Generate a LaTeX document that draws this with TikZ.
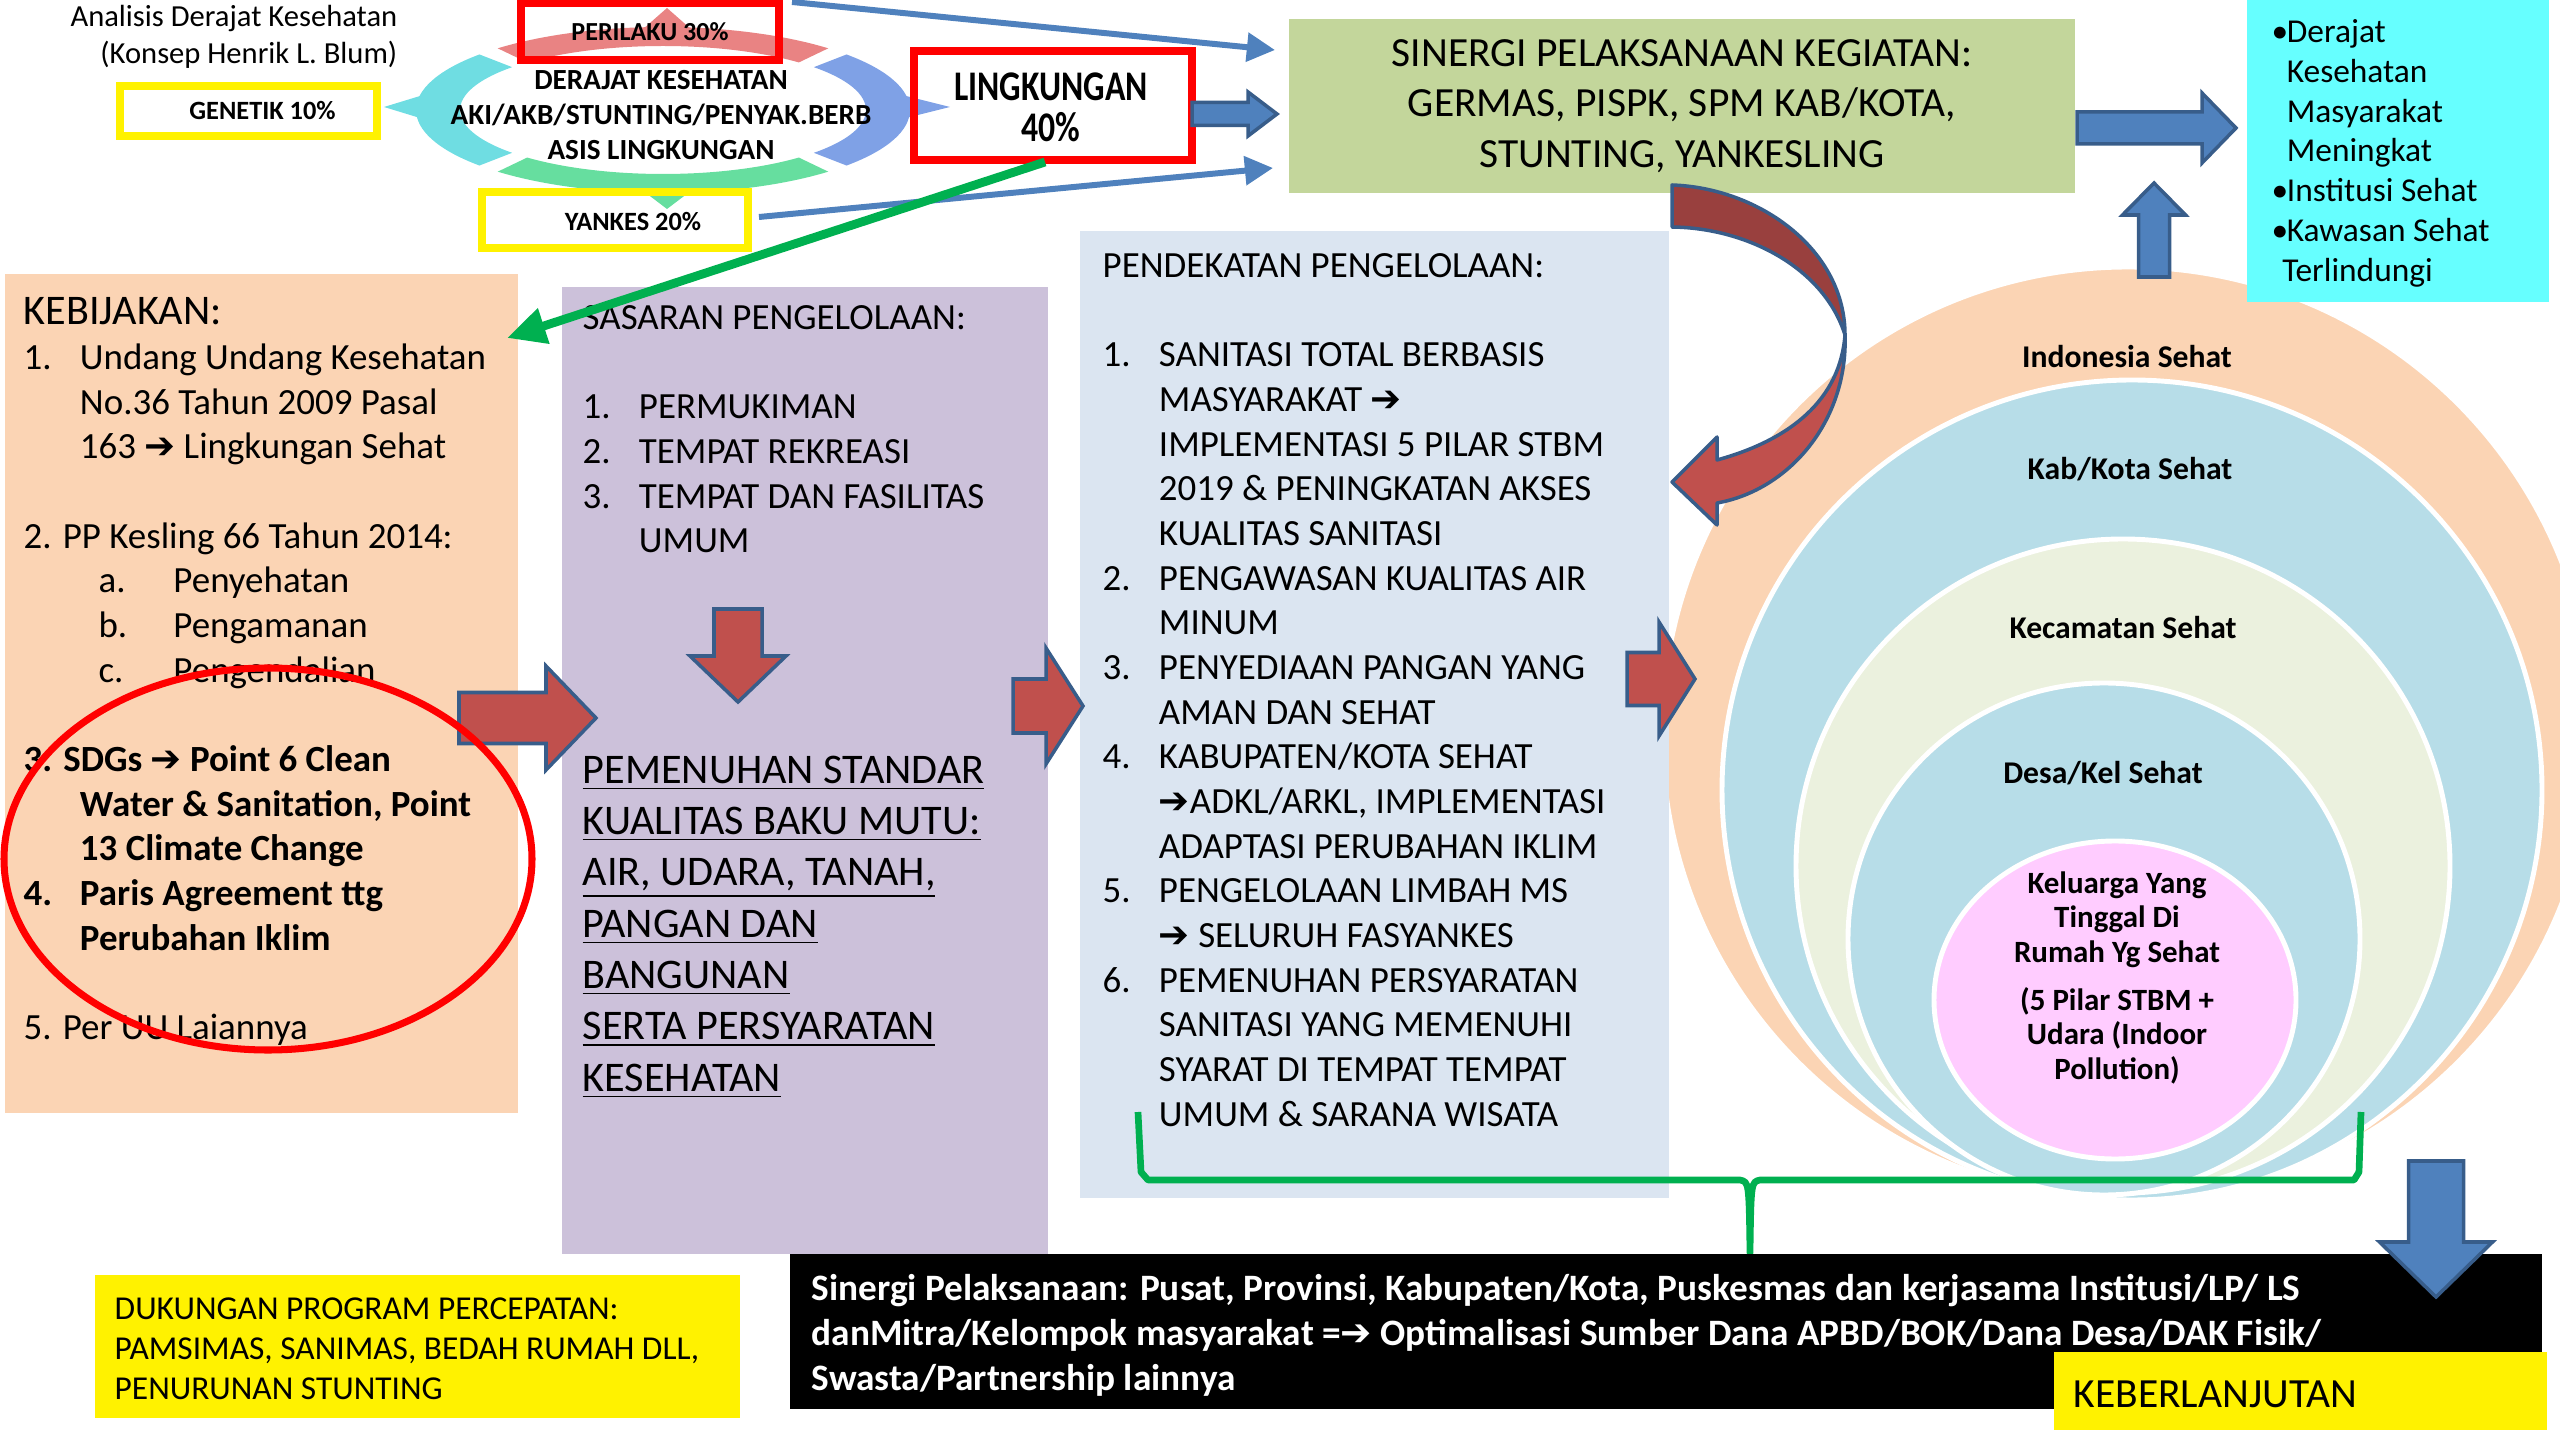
\documentclass[tikz,border=0pt]{standalone}
\usepackage{fontspec}
\setmainfont{Carlito}
\newfontfamily\symfont{DejaVu Sans}
\newfontfamily\condfont{Carlito}[FakeStretch=0.8]
\usetikzlibrary{calc,fit,arrows.meta}

\definecolor{peach}{HTML}{FBD4B4}
\definecolor{lavender}{HTML}{CCC1DA}
\definecolor{paleblue}{HTML}{DBE5F1}
\definecolor{sinergigreen}{HTML}{C3D69B}
\definecolor{cyanbox}{HTML}{66FFFF}
\definecolor{ringblue}{HTML}{B7DDE8}
\definecolor{beige}{HTML}{EBF1DE}
\definecolor{pinkcore}{HTML}{FFCCFF}
\definecolor{arrowred}{HTML}{C0504D}
\definecolor{arrowdark}{HTML}{99403E}
\definecolor{arrowblue}{HTML}{4F81BD}
\definecolor{edgeblue}{HTML}{385D8A}
\definecolor{brgreen}{HTML}{00B050}
\definecolor{ringpink}{HTML}{E98383}
\definecolor{ringcyan}{HTML}{6FDDE2}
\definecolor{ringviolet}{HTML}{7FA1E6}
\definecolor{ringgreen}{HTML}{66DE9F}

\newcommand\rarr{{\symfont ➔}}
\newcommand\itemno[1]{\makebox[16pt][l]{#1}}
\newcommand\listind{\hspace*{16pt}}
\newcommand\bul{\makebox[4.3pt][l]{•}}
% block arrows: style, start, head, tip, centre, shaft half, head half
\newcommand\hblock[7]{\draw[#1] (#2,{#5-#6}) -- (#3,{#5-#6}) -- (#3,{#5-#7}) -- (#4,#5) -- (#3,{#5+#7}) -- (#3,{#5+#6}) -- (#2,{#5+#6}) -- cycle;}
\newcommand\vblock[7]{\draw[#1] ({#5-#6},#2) -- ({#5-#6},#3) -- ({#5-#7},#3) -- (#5,#4) -- ({#5+#7},#3) -- ({#5+#6},#3) -- ({#5+#6},#2) -- cycle;}

\tikzset{
  panel/.style={inner sep=0pt, outer sep=0pt, draw=none},
  redframe/.style={panel, draw=red, line width=2pt},
  yellowframe/.style={panel, draw=yellow, line width=2pt},
  smallbold/.style={inner sep=0pt, font=\fontsize{7.5}{9}\selectfont\bfseries},
  coltext/.style={inner sep=0pt, anchor=north west, align=left, font=\fontsize{10.5}{12.7}\selectfont},
  redblock/.style={fill=arrowred, draw=edgeblue, line width=1pt},
  blueblock/.style={fill=arrowblue, draw=edgeblue, line width=1pt},
  thinblue/.style={draw=arrowblue, line width=1.7pt, -{Triangle[length=8pt,width=8pt]}},
  circlelabel/.style={font=\fontsize{9}{10.8}\selectfont\bfseries, anchor=base},
  circ/.style={draw=white, line width=1.4pt}
}

\begin{document}
\begin{tikzpicture}[x=0.01cm, y=-0.01cm]
\useasboundingbox (0,0) rectangle (2560,1440);

%%%%% BLUM RING %%%%%
\begin{scope}[shift={(663,110)}]
  \foreach \a/\b/\col in {48/132/ringgreen, 138/222/ringcyan, 228/312/ringpink, 318/402/ringviolet}
    \fill[\col] (\a:247 and 83) arc[start angle=\a, end angle=\b, x radius=247, y radius=83]
      -- (\b:203 and 64) arc[start angle=\b, end angle=\a, x radius=203, y radius=64] -- cycle;
\end{scope}
\fill[ringpink] (642,30) -- (667,8) -- (692,30) -- cycle;
\fill[ringcyan] (420,96) -- (384,107) -- (420,118) -- cycle;
\fill[ringviolet] (906,96) -- (950,107) -- (906,118) -- cycle;
\fill[ringgreen] (642,190) -- (667,209) -- (692,190) -- cycle;

\node[font=\fontsize{8.7}{10.5}\selectfont, align=right, anchor=north east, inner sep=0pt] (judul) at (398,5) {Analisis Derajat Kesehatan\\(Konsep Henrik L. Blum)};
\node[font=\fontsize{8.3}{9.9}\selectfont\bfseries, align=center, inner sep=0pt] (derajat) at (661,115) {DERAJAT KESEHATAN\\AKI/AKB/STUNTING/PENYAK.BERB\\ASIS LINGKUNGAN};

\node[redframe, fit={(521,3) (779,60)}] (perilaku) {};
\node[smallbold, font=\fontsize{7.4}{9}\selectfont\bfseries] (perilakutext) at (perilaku.center) {PERILAKU 30\%};
\node[yellowframe, fit={(120,86) (377,136)}] (genetik) {};
\node[smallbold] (genetiktext) at ($(genetik.center)+(14,0)$) {GENETIK 10\%};
\node[yellowframe, fit={(482,192) (748,248)}] (yankes) {};
\node[smallbold] (yankestext) at ($(yankes.center)+(18,2)$) {YANKES 20\%};
\node[redframe, fit={(914,51) (1192,160)}] (lingkungan) {};
\node[inner sep=0pt, font=\fontsize{12}{11.8}\selectfont\condfont\bfseries, align=center] (lingkungantext) at ($(lingkungan.center)+(-2,2)$) {LINGKUNGAN\\40\%};

%%%%% SINERGI + HASIL %%%%%
\node[panel, fill=sinergigreen, fit={(1289,19) (2075,193)}] (sinergi) {};
\node[inner sep=0pt, font=\fontsize{11.8}{14.4}\selectfont, align=center] (sinergitext) at (sinergi.center) {SINERGI PELAKSANAAN KEGIATAN:\\GERMAS, PISPK, SPM KAB/KOTA,\\STUNTING, YANKESLING};

\draw[thinblue] ($(perilaku.north east)+(13,-1)$) -- ($(sinergi.north west)+(-14,31)$);
\draw[thinblue] ($(yankes.east)+(11,-3)$) -- ($(sinergi.south west)+(-16,-25)$);
\hblock{blueblock}{1192}{1248}{1277}{114}{11.5}{22}
\hblock{blueblock}{2077}{2202}{2236}{128}{16}{35}

%%%%% NESTED CIRCLES %%%%%
\draw[circ, fill=peach] (2128,733) circle (466);
\draw[circ, fill=ringblue] (2132,790) circle (410);
\draw[circ, fill=beige] (2123,866) circle (327);
\draw[circ, fill=ringblue] (2104,939) circle (256);
\draw[circ, fill=pinkcore] (2115,1000) ellipse [x radius=181, y radius=159];

\node[circlelabel] (indonesia) at (2127,368) {Indonesia Sehat};
\node[circlelabel] (kabkota) at (2130,480) {Kab/Kota Sehat};
\node[circlelabel] (kecamatan) at (2123,639) {Kecamatan Sehat};
\node[circlelabel] (desa) at (2103,784) {Desa/Kel Sehat};
\node[font=\fontsize{8.8}{9.8}\selectfont\bfseries, align=center, anchor=north, inner sep=0pt] (keluarga) at (2117,871) {Keluarga Yang\\Tinggal Di\\Rumah Yg Sehat\\[3.8pt](5 Pilar STBM +\\Udara (Indoor\\Pollution)};

\node[panel, fill=cyanbox, fit={(2247,0) (2549,302)}] (hasil) {};
\node[inner sep=0pt, anchor=north west, align=left, font=\fontsize{9.5}{11.3}\selectfont] (hasiltext) at ($(hasil.north west)+(24,19)$) {\bul Derajat\\\hspace*{4.3pt}Kesehatan\\\hspace*{4.3pt}Masyarakat\\\hspace*{4.3pt}Meningkat\\\bul Institusi Sehat\\\bul Kawasan Sehat\\\hspace*{3pt}Terlindungi};
\vblock{blueblock}{277}{215}{183}{2154}{15.5}{31.5}

%%%%% COLUMNS %%%%%
\node[panel, fill=peach, fit={(5,274) (518,1113)}] (kebijakan) {};
\node[panel, fill=lavender, fit={(562,287) (1048,1254)}] (sasaran) {};
\node[panel, fill=paleblue, fit={(1080,231) (1669,1198)}] (pendekatan) {};

\node[coltext] (kebtext) at ($(kebijakan.north west)+(18,23)$) {%
{\fontsize{12}{12.7}\selectfont KEBIJAKAN:}\\
\itemno{1.}Undang Undang Kesehatan\\
\listind No.36 Tahun 2009 Pasal\\
\listind 163 \rarr{} Lingkungan Sehat\\[12.7pt]
2. PP Kesling 66 Tahun 2014:\\
\hspace*{21.3pt}\makebox[21.3pt][l]{a.}Penyehatan\\
\hspace*{21.3pt}\makebox[21.3pt][l]{b.}Pengamanan\\
\hspace*{21.3pt}\makebox[21.3pt][l]{c.}Pengendalian\\[12.7pt]
\textbf{3. SDGs \rarr{} Point 6 Clean}\\
\listind\textbf{Water \& Sanitation, Point}\\
\listind\textbf{13 Climate Change}\\
\textbf{\itemno{4.}Paris Agreement ttg}\\
\listind\textbf{Perubahan Iklim}\\[12.7pt]
5. Per UU Laiannya};

\node[coltext] (sastext) at ($(sasaran.north west)+(20,18)$) {%
SASARAN PENGELOLAAN:\\[12.7pt]
\itemno{1.}PERMUKIMAN\\
\itemno{2.}TEMPAT REKREASI\\
\itemno{3.}TEMPAT DAN FASILITAS\\
\listind UMUM};
\node[coltext, font=\fontsize{12}{14.6}\selectfont] (mututext) at ($(sasaran.north west)+(20,468)$) {%
\underline{PEMENUHAN STANDAR}\\
\underline{KUALITAS BAKU MUTU:}\\
\underline{AIR, UDARA, TANAH,}\\
\underline{PANGAN DAN}\\
\underline{BANGUNAN}\\
\underline{SERTA PERSYARATAN}\\
\underline{KESEHATAN}};

\node[coltext] (pendtext) at ($(pendekatan.north west)+(22,22)$) {%
PENDEKATAN PENGELOLAAN:\\[12.7pt]
\itemno{1.}SANITASI TOTAL BERBASIS\\
\listind MASYARAKAT \rarr\\
\listind IMPLEMENTASI 5 PILAR STBM\\
\listind 2019 \& PENINGKATAN AKSES\\
\listind KUALITAS SANITASI\\
\itemno{2.}PENGAWASAN KUALITAS AIR\\
\listind MINUM\\
\itemno{3.}PENYEDIAAN PANGAN YANG\\
\listind AMAN DAN SEHAT\\
\itemno{4.}KABUPATEN/KOTA SEHAT\\
\listind\rarr ADKL/ARKL, IMPLEMENTASI\\
\listind ADAPTASI PERUBAHAN IKLIM\\
\itemno{5.}PENGELOLAAN LIMBAH MS\\
\listind\rarr{} SELURUH FASYANKES\\
\itemno{6.}PEMENUHAN PERSYARATAN\\
\listind SANITASI YANG MEMENUHI\\
\listind SYARAT DI TEMPAT TEMPAT\\
\listind UMUM \& SARANA WISATA};

%%%%% RED ARROWS %%%%%
\hblock{redblock}{459}{546}{596}{718}{25.5}{52}
\hblock{redblock}{1013}{1046}{1083}{706}{27}{58}
\hblock{redblock}{1627}{1659}{1695}{679}{26.5}{57}
\vblock{redblock}{609}{656}{702}{738}{24}{48}

% curved arrow from sinergi down to pendekatan
\draw[fill=arrowdark, draw=edgeblue, line width=1pt, line join=round] (1672,185) .. controls (1760,188) and (1845,250) .. (1845,335) .. controls (1825,270) and (1750,228) .. (1672,227) -- cycle;
\draw[fill=arrowred, draw=edgeblue, line width=1pt, line join=round] (1845,335) .. controls (1848,420) and (1790,490) .. (1717,503) -- (1717,525) -- (1672,482) -- (1717,437) -- (1717,460) .. controls (1790,440) and (1840,400) .. (1845,335) -- cycle;

\draw[red, line width=2pt] (268,859) ellipse [x radius=264, y radius=191];
\draw[brgreen, line width=2.5pt, -{Triangle[length=11pt,width=10pt]}] ($(lingkungan.south west)+(131,2)$) -- ($(kebijakan.north east)+(-11,64)$);

%%%%% BOTTOM %%%%%
\draw[brgreen, line width=1.9pt, line join=round] (1138,1112) -- (1141,1172) -- (1148,1180) -- (1740,1180) .. controls (1749,1182) .. (1750,1253) .. controls (1751,1182) .. (1760,1180) -- (2354,1180) -- (2359,1172) -- (2361,1112);

\node[panel, fill=black, fit={(790,1254) (2542,1409)}] (pelaksanaan) {};
\node[inner sep=0pt, anchor=north west, align=left, text=white, font=\fontsize{10.6}{12.7}\selectfont\bfseries] (pelaksanaantext) at ($(pelaksanaan.north west)+(21,20)$) {Sinergi Pelaksanaan: Pusat, Provinsi, Kabupaten/Kota, Puskesmas dan kerjasama Institusi/LP/ LS\\danMitra/Kelompok masyarakat =\rarr{} Optimalisasi Sumber Dana APBD/BOK/Dana Desa/DAK Fisik/\\Swasta/Partnership lainnya};
\vblock{blueblock}{1161}{1242}{1297}{2436}{27.5}{56.5}

\node[panel, fill=yellow, fit={(95,1275) (740,1418)}] (dukungan) {};
\node[inner sep=0pt, anchor=north west, align=left, font=\fontsize{9.5}{11.4}\selectfont] (dukungantext) at ($(dukungan.north west)+(19,22)$) {DUKUNGAN PROGRAM PERCEPATAN:\\PAMSIMAS, SANIMAS, BEDAH RUMAH DLL,\\PENURUNAN STUNTING};

\node[panel, fill=yellow, fit={(2054,1352) (2547,1430)}] (lanjut) {};
\node[inner sep=0pt, anchor=north west, font=\fontsize{11.8}{14}\selectfont] (lanjuttext) at ($(lanjut.north west)+(19,28)$) {KEBERLANJUTAN};
\end{tikzpicture}
\end{document}
